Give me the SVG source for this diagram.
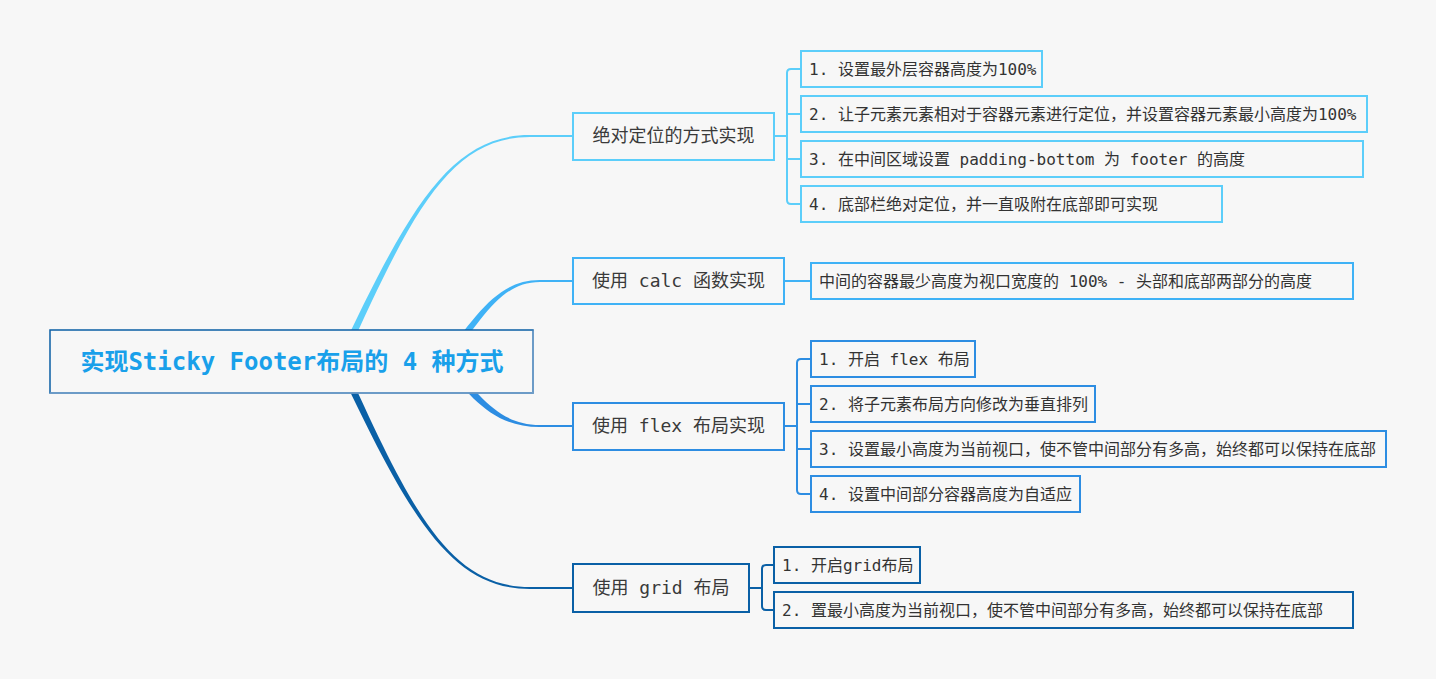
<svg xmlns="http://www.w3.org/2000/svg" width="1436" height="679" viewBox="0 0 1436 679">
<style>
.bg{fill:#f7f7f7}
.box{fill:#f7f7f7;stroke-width:2}
.c1{stroke:#5ccefa}
.c2{stroke:#3fb2f6}
.c3{stroke:#2d8de2}
.c4{stroke:#0a60a6}
.t{font-family:"DejaVu Sans Mono","Noto Sans CJK SC",monospace;font-size:16px;fill:#333}
.bt{font-family:"DejaVu Sans Mono","Noto Sans CJK SC",monospace;font-size:18px;fill:#3a3a3a;text-anchor:middle}
.root{font-family:"DejaVu Sans Mono","Noto Sans CJK SC",monospace;font-size:24px;font-weight:bold;fill:#19a0ea;text-anchor:middle}
.ln{fill:none;stroke-width:2}
</style>
<rect class="bg" x="0" y="0" width="1436" height="679"/>
<g id="connectors">
<path fill="#5ccefa" d="M336,362 C408,209 450,134.8 530,135 L573,135 L573,137 L530,137 C450,137.2 412,211 344,362 Z"/>
<path fill="#3fb2f6" d="M441,362 C477,313 499,279.8 540,280 L573,280 L573,282 L540,282 C501,282.2 483,317 449,362 Z"/>
<path fill="#2d8de2" d="M441,362 C471,397 493,427.2 540,427 L573,427 L573,425 L540,425 C497,424.8 479,393 449,362 Z"/>
<path fill="#0a60a6" d="M336,362 C408,515 450,589.2 530,589 L573,589 L573,587 L530,587 C450,586.8 412,513 344,362 Z"/>
<path class="ln c1" d="M775,136 H787 M801,69 H791 Q787,69 787,73 V200 Q787,204 791,204 H801 M787,114 H801 M787,159 H801"/>
<path class="ln c2" d="M784,281 H811"/>
<path class="ln c3" d="M784,426 H797 M811,359 H801 Q797,359 797,363 V490 Q797,494 801,494 H811 M797,404 H811 M797,449 H811"/>
<path class="ln c4" d="M749,588 H762 M774,565 H766 Q762,565 762,569 V606 Q762,610 766,610 H774"/>
</g>
<g id="root">
<rect x="50" y="330" width="483" height="63" fill="#f7f7f7" stroke="#0b5fa5" stroke-width="1.5"/>
<path d="M533,330.5 V393 H50" fill="none" stroke="#7aa3cc" stroke-width="1.5"/>
<text class="root" x="292" y="370">实现Sticky Footer布局的 4 种方式</text>
</g>
<g id="b1">
<rect class="box c1" x="573" y="113" width="201" height="47"/>
<text class="bt" x="673.5" y="142">绝对定位的方式实现</text>
</g>
<g id="b1-1">
<rect class="box c1" x="801" y="51" width="241" height="36"/>
<text class="t" x="809" y="75">1. 设置最外层容器高度为100%</text>
</g>
<g id="b1-2">
<rect class="box c1" x="801" y="96" width="566" height="36"/>
<text class="t" x="809" y="120">2. 让子元素元素相对于容器元素进行定位，并设置容器元素最小高度为100%</text>
</g>
<g id="b1-3">
<rect class="box c1" x="801" y="141" width="562" height="36"/>
<text class="t" x="809" y="165">3. 在中间区域设置 padding-bottom 为 footer 的高度</text>
</g>
<g id="b1-4">
<rect class="box c1" x="801" y="186" width="421" height="36"/>
<text class="t" x="809" y="210">4. 底部栏绝对定位，并一直吸附在底部即可实现</text>
</g>
<g id="b2">
<rect class="box c2" x="573" y="258" width="211" height="46"/>
<text class="bt" x="678.5" y="287">使用 calc 函数实现</text>
</g>
<g id="b2-1">
<rect class="box c2" x="811" y="263" width="542" height="36"/>
<text class="t" x="819" y="287">中间的容器最少高度为视口宽度的 100% - 头部和底部两部分的高度</text>
</g>
<g id="b3">
<rect class="box c3" x="573" y="403" width="211" height="47"/>
<text class="bt" x="678.5" y="432">使用 flex 布局实现</text>
</g>
<g id="b3-1">
<rect class="box c3" x="811" y="341" width="164" height="36"/>
<text class="t" x="819" y="365">1. 开启 flex 布局</text>
</g>
<g id="b3-2">
<rect class="box c3" x="811" y="386" width="284" height="36"/>
<text class="t" x="819" y="410">2. 将子元素布局方向修改为垂直排列</text>
</g>
<g id="b3-3">
<rect class="box c3" x="811" y="431" width="575" height="36"/>
<text class="t" x="819" y="455">3. 设置最小高度为当前视口，使不管中间部分有多高，始终都可以保持在底部</text>
</g>
<g id="b3-4">
<rect class="box c3" x="811" y="476" width="269" height="36"/>
<text class="t" x="819" y="500">4. 设置中间部分容器高度为自适应</text>
</g>
<g id="b4">
<rect class="box c4" x="573" y="564" width="176" height="48"/>
<text class="bt" x="661" y="594">使用 grid 布局</text>
</g>
<g id="b4-1">
<rect class="box c4" x="774" y="547" width="146" height="36"/>
<text class="t" x="782" y="571">1. 开启grid布局</text>
</g>
<g id="b4-2">
<rect class="box c4" x="774" y="592" width="579" height="36"/>
<text class="t" x="782" y="616">2. 置最小高度为当前视口，使不管中间部分有多高，始终都可以保持在底部</text>
</g>
</svg>
